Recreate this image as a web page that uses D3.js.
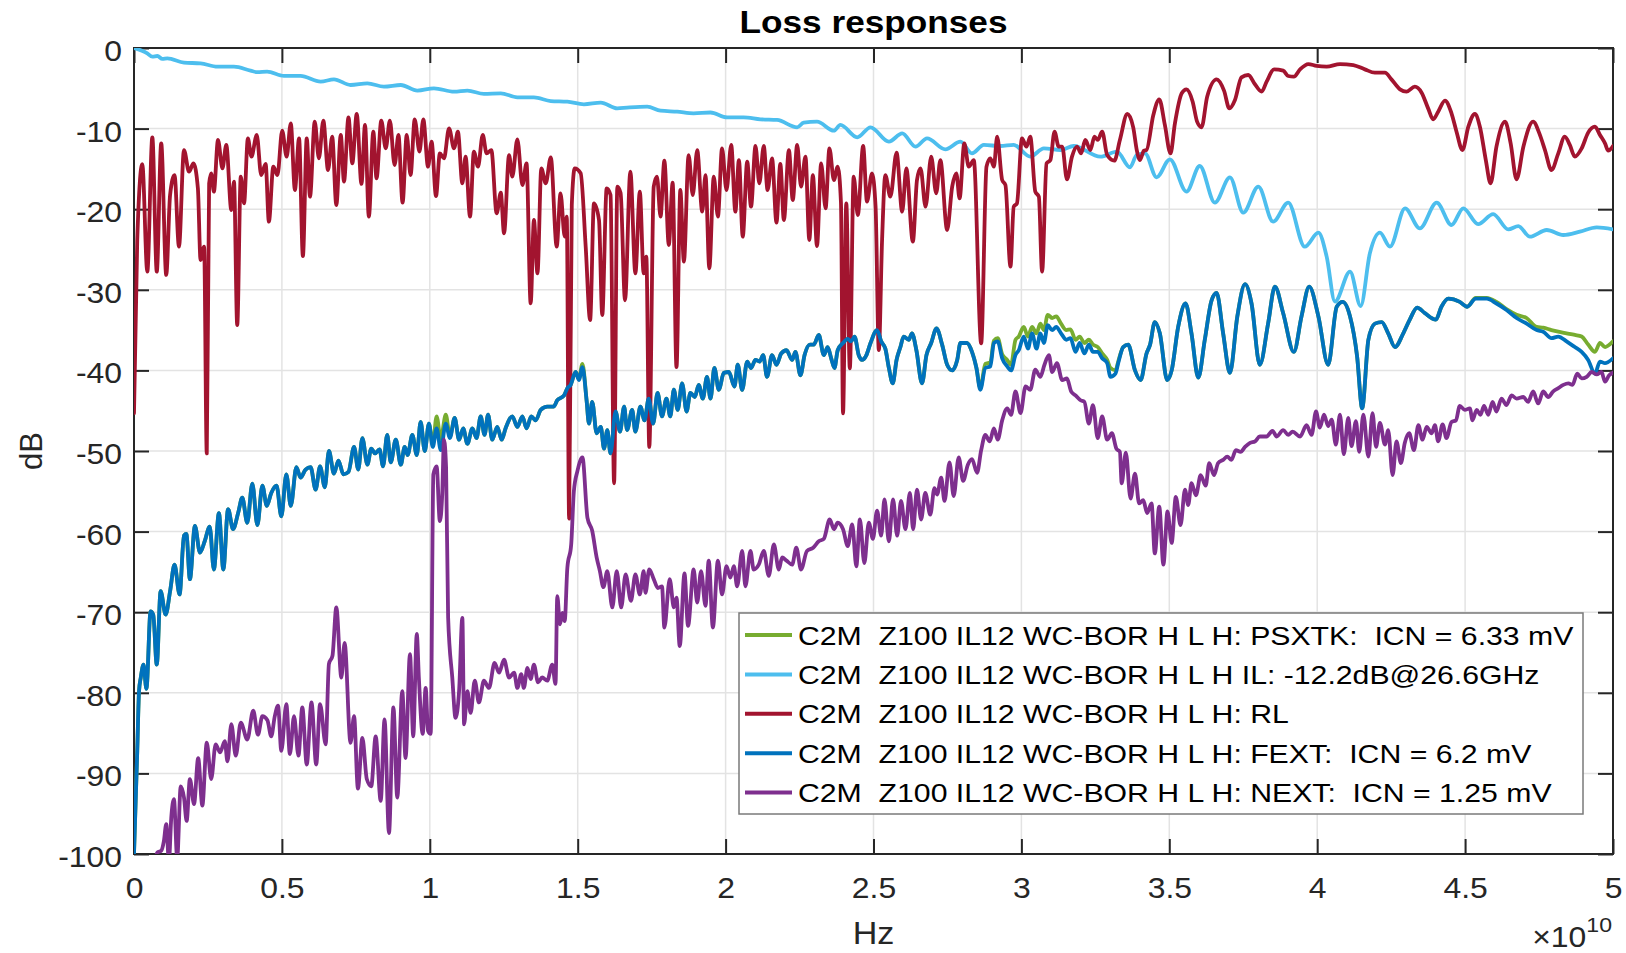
<!DOCTYPE html>
<html>
<head>
<meta charset="utf-8">
<script src="https://cdn.jsdelivr.net/npm/d3@7"></script>
<style>
  body { margin: 0; background: #fff; }
  text { font-family: "Liberation Sans", Arial, Helvetica, sans-serif; }
</style>
</head>
<body>
<div id="chart"></div>
<script>
// frequencies in GHz, values in dB
const ilData = [[0,0],[0.45,-0.66],[0.62,-1.08],[0.79,-0.99],[0.96,-1.36],[1.13,-1.28],[1.69,-1.82],[2.25,-1.9],[2.82,-2.32],[3.38,-2.32],[3.94,-2.81],[4.17,-3.0],[4.5,-2.94],[5.07,-3.47],[5.63,-3.47],[6.31,-4.18],[6.76,-3.89],[7.32,-4.59],[7.89,-4.38],[8.45,-4.8],[9.02,-4.59],[9.58,-5.29],[10.14,-5.0],[10.82,-5.42],[11.27,-5.29],[11.83,-5.7],[12.4,-5.62],[12.96,-6.12],[13.52,-6.12],[14.09,-6.58],[14.65,-6.66],[15.21,-6.99],[15.78,-6.78],[16.34,-7.49],[16.67,-7.4],[17.35,-7.28],[17.8,-7.78],[18.36,-7.9],[18.92,-8.1],[19.49,-8.0],[20.05,-8.6],[20.61,-8.6],[21.18,-8.85],[21.74,-8.93],[22.42,-9.84],[22.64,-9.26],[23.09,-9.14],[23.66,-10.26],[23.88,-9.55],[24.45,-11.08],[24.9,-9.84],[25.52,-11.62],[25.97,-10.59],[26.42,-12.24],[26.81,-11.21],[27.43,-12.57],[27.94,-11.62],[28.33,-13.07],[28.73,-12.03],[29.29,-12.16],[29.74,-12.03],[30.3,-13.48],[30.76,-12.45],[31.32,-12.66],[31.77,-12.16],[32.67,-13.48],[33.23,-12.86],[33.67,-14.8],[33.9,-13.28],[34.18,-13.07],[34.57,-16.05],[35.02,-13.81],[35.58,-17.82],[36.03,-14.64],[36.54,-19.19],[37.05,-16.05],[37.5,-20.43],[38.01,-17.2],[38.51,-21.55],[39.02,-19.19],[39.58,-24.65],[40.04,-22.91],[40.32,-25.89],[40.6,-31.47],[41.11,-27.75],[41.47,-32.01],[41.78,-25.48],[42.12,-22.91],[42.46,-24.65],[42.97,-19.89],[43.47,-22.37],[44.04,-19.19],[44.54,-21.96],[44.94,-19.89],[45.44,-21.84],[45.95,-20.6],[46.46,-22.5],[46.8,-22.09],[47.19,-23.41],[47.76,-22.58],[48.32,-23.2],[48.88,-22.79],[49.45,-22.25],[50,-22.5]];

const rlData = [[0,-45.3],[0.11,-23.8],[0.28,-14.4],[0.45,-27.75],[0.62,-11.08],[0.77,-27.75],[0.92,-11.83],[1.09,-28.16],[1.22,-18.24],[1.37,-15.76],[1.52,-24.65],[1.69,-12.66],[1.86,-15.34],[2.01,-14.31],[2.16,-17.41],[2.25,-26.3],[2.37,-24.65],[2.46,-50.3],[2.54,-16.8],[2.61,-15.55],[2.7,-17.82],[2.84,-11.41],[2.99,-14.93],[3.12,-12.03],[3.29,-20.1],[3.38,-16.58],[3.49,-34.37],[3.61,-15.96],[3.72,-19.27],[3.85,-11.21],[3.97,-13.48],[4.15,-10.79],[4.3,-15.76],[4.45,-14.39],[4.56,-21.55],[4.71,-14.72],[4.85,-15.76],[5.01,-10.26],[5.16,-13.48],[5.3,-9.35],[5.44,-17.62],[5.58,-11.21],[5.71,-25.81],[5.84,-11.21],[5.95,-18.45],[6.11,-9.14],[6.25,-13.69],[6.4,-9.02],[6.56,-15.14],[6.7,-11.0],[6.84,-19.48],[6.99,-10.79],[7.1,-16.58],[7.25,-8.6],[7.38,-14.31],[7.53,-8.19],[7.69,-16.87],[7.81,-9.55],[7.94,-20.93],[8.09,-10.38],[8.2,-16.17],[8.36,-9.02],[8.51,-12.45],[8.65,-9.02],[8.81,-14.52],[8.94,-10.79],[9.08,-19.19],[9.22,-10.79],[9.35,-15.76],[9.49,-8.85],[9.65,-12.86],[9.78,-8.85],[9.94,-14.72],[10.06,-11.62],[10.21,-18.36],[10.34,-13.07],[10.48,-13.69],[10.65,-9.97],[10.82,-12.45],[10.95,-10.38],[11.1,-16.79],[11.21,-13.48],[11.36,-20.93],[11.49,-12.86],[11.63,-14.72],[11.79,-10.79],[11.92,-13.07],[12.08,-12.66],[12.26,-20.51],[12.4,-17.95],[12.51,-22.99],[12.68,-13.28],[12.79,-15.96],[12.96,-11.33],[13.13,-17.0],[13.27,-14.31],[13.41,-31.68],[13.52,-21.34],[13.64,-27.96],[13.77,-14.93],[13.92,-16.79],[14.09,-13.56],[14.29,-24.65],[14.42,-18.03],[14.56,-23.41],[14.63,-20.93],[14.71,-58.4],[14.8,-19.5],[14.9,-14.93],[15.1,-15.55],[15.27,-24.65],[15.42,-33.75],[15.55,-19.27],[15.72,-21.34],[15.83,-33.13],[15.98,-17.41],[16.11,-18.24],[16.23,-54],[16.34,-17.2],[16.45,-18],[16.6,-31.3],[16.78,-15.34],[16.95,-27.96],[17.1,-17.82],[17.23,-27.96],[17.32,-25.89],[17.42,-49.5],[17.57,-17.2],[17.68,-15.96],[17.8,-20.93],[17.93,-13.98],[18.08,-24.44],[18.21,-16.71],[18.34,-39.6],[18.47,-17.62],[18.59,-26.51],[18.75,-13.28],[18.89,-18.24],[19.04,-12.66],[19.21,-20.31],[19.32,-15.76],[19.45,-27.34],[19.6,-15.96],[19.74,-20.93],[19.88,-12.45],[20.03,-17.62],[20.19,-12.03],[20.33,-20.31],[20.45,-13.9],[20.58,-23.41],[20.73,-14.1],[20.86,-19.69],[21.01,-12.16],[21.14,-16.79],[21.29,-12.16],[21.42,-17.62],[21.57,-13.69],[21.72,-21.67],[21.85,-14.39],[21.97,-21.34],[22.14,-12.66],[22.27,-18.86],[22.42,-12.03],[22.55,-17.2],[22.7,-13.48],[22.83,-23.82],[22.95,-15.76],[23.09,-24.57],[23.23,-14.31],[23.38,-19.89],[23.51,-12.45],[23.66,-16.38],[23.79,-14.72],[23.9,-19.19],[23.97,-45.33],[24.08,-19.27],[24.2,-39.74],[24.33,-15.96],[24.47,-20.72],[24.65,-12.16],[24.78,-19.07],[24.95,-15.55],[25.07,-19.69],[25.18,-37.47],[25.29,-23.82],[25.4,-15.76],[25.57,-18.45],[25.78,-12.99],[25.97,-20.31],[26.11,-14.93],[26.33,-24.03],[26.47,-16.38],[26.59,-14.93],[26.76,-19.69],[26.95,-13.48],[27.12,-18.03],[27.26,-13.9],[27.49,-22.58],[27.66,-17.2],[27.8,-15.55],[27.91,-18.65],[28.07,-11.83],[28.22,-14.72],[28.39,-13.9],[28.64,-36.64],[28.82,-14.72],[28.95,-13.69],[29.07,-14.72],[29.18,-11.0],[29.35,-16.38],[29.46,-17.0],[29.63,-27.13],[29.74,-19.69],[29.85,-19.27],[30.02,-11.21],[30.17,-12.24],[30.3,-11.0],[30.47,-17.82],[30.59,-18.45],[30.7,-27.75],[30.85,-14.31],[30.98,-13.9],[31.12,-10.38],[31.26,-12.24],[31.38,-12.24],[31.54,-16.29],[31.71,-13.48],[31.88,-12.24],[32.02,-13.07],[32.16,-11.41],[32.33,-12.66],[32.47,-11.0],[32.58,-11.41],[32.73,-10.38],[32.9,-13.28],[33.14,-13.98],[33.33,-11.41],[33.58,-8.19],[33.78,-9.84],[33.9,-12.66],[34.01,-13.9],[34.14,-12.74],[34.23,-12.66],[34.46,-8.31],[34.66,-6.37],[34.85,-9.55],[35.04,-13.07],[35.19,-9.35],[35.42,-5.62],[35.58,-5.13],[35.79,-6.66],[35.94,-9.14],[36.09,-9.84],[36.28,-6.04],[36.6,-3.89],[36.85,-5.29],[37.03,-7.49],[37.22,-6.45],[37.44,-3.64],[37.67,-3.35],[37.89,-4.47],[38.12,-5.42],[38.29,-4.18],[38.54,-2.65],[38.85,-2.81],[39.02,-3.47],[39.21,-3.56],[39.42,-2.65],[39.7,-1.99],[39.98,-2.23],[40.32,-2.32],[40.77,-1.99],[41.22,-2.11],[41.61,-2.65],[41.95,-3.06],[42.29,-3.06],[42.51,-3.89],[42.8,-5.13],[43.02,-5.42],[43.3,-4.8],[43.53,-5.54],[43.75,-7.49],[43.92,-8.85],[44.09,-7.9],[44.32,-6.53],[44.54,-8.1],[44.71,-10.38],[44.91,-12.66],[45.11,-9.76],[45.33,-8.19],[45.5,-9.76],[45.7,-13.9],[45.86,-16.79],[46.06,-12.24],[46.35,-9.14],[46.54,-11.83],[46.74,-16.29],[46.97,-12.24],[47.3,-9.14],[47.51,-10.59],[47.7,-12.66],[47.92,-15.14],[48.15,-13.07],[48.37,-11.0],[48.54,-12.03],[48.71,-13.48],[48.94,-12.45],[49.16,-10.5],[49.39,-9.76],[49.56,-10.79],[49.73,-11.83],[49.84,-12.74],[50,-12.16]];

const fextData = [[0,-100],[0.11,-87.2],[0.17,-79.8],[0.23,-78.1],[0.32,-76.5],[0.42,-79.5],[0.56,-69.9],[0.65,-70.3],[0.77,-76.5],[0.9,-67.4],[1.07,-70.3],[1.22,-67.4],[1.37,-64.1],[1.54,-67.8],[1.69,-60.5],[1.77,-60.3],[1.89,-65.9],[2.06,-59.3],[2.23,-62.6],[2.39,-61.2],[2.56,-59.4],[2.7,-64.7],[2.87,-57.7],[3.02,-64.7],[3.18,-57.2],[3.35,-59.7],[3.52,-57.7],[3.66,-55.8],[3.83,-58.9],[4.0,-54.05],[4.17,-59.2],[4.34,-54.3],[4.49,-56.8],[4.64,-55.2],[4.82,-54.3],[4.98,-58.1],[5.15,-52.9],[5.3,-56.8],[5.49,-52.0],[5.63,-53.3],[5.8,-52.3],[5.97,-52.0],[6.14,-54.8],[6.29,-51.9],[6.45,-54.5],[6.59,-50.0],[6.76,-52.8],[6.91,-51.2],[7.08,-52.9],[7.25,-52.6],[7.44,-49.5],[7.58,-52.3],[7.72,-48.4],[7.89,-51.7],[8.02,-49.7],[8.15,-50.3],[8.3,-49.8],[8.42,-51.9],[8.56,-48.0],[8.68,-51.4],[8.85,-48.6],[9.02,-51.7],[9.15,-49.5],[9.25,-50.5],[9.41,-48.0],[9.56,-50.5],[9.69,-46.4],[9.83,-50.0],[9.97,-46.6],[10.1,-49.5],[10.23,-47.2],[10.37,-49.9],[10.54,-46.6],[10.68,-48.4],[10.84,-45.9],[10.99,-48.6],[11.13,-47.2],[11.27,-49.1],[11.44,-47.2],[11.58,-48.4],[11.72,-45.7],[11.85,-48.0],[11.97,-45.5],[12.11,-48.6],[12.28,-47.0],[12.43,-48.6],[12.56,-47.2],[12.79,-45.7],[12.96,-47.0],[13.13,-45.7],[13.27,-47.2],[13.43,-45.7],[13.58,-46.2],[13.75,-44.9],[13.97,-44.5],[14.18,-44.5],[14.31,-43.7],[14.54,-43.1],[14.65,-42.2],[14.76,-41.8],[14.93,-40.2],[15.04,-41.2],[15.16,-39.6],[15.3,-43.7],[15.38,-46.6],[15.49,-43.9],[15.64,-47.8],[15.78,-47.0],[15.89,-49.7],[16.0,-47.4],[16.11,-50.3],[16.28,-45.1],[16.43,-47.6],[16.57,-44.5],[16.67,-47.4],[16.84,-44.9],[16.95,-47.6],[17.12,-44.5],[17.26,-46.2],[17.4,-43.5],[17.55,-46.6],[17.7,-42.8],[17.85,-45.7],[18.0,-43.5],[18.13,-45.7],[18.25,-42.4],[18.38,-44.9],[18.53,-41.6],[18.68,-45.1],[18.81,-42.8],[18.96,-43.3],[19.09,-41.8],[19.23,-43.5],[19.37,-40.8],[19.49,-43.5],[19.62,-39.7],[19.77,-42.4],[19.94,-40.3],[20.11,-40.2],[20.3,-42.0],[20.41,-39.3],[20.56,-42.4],[20.73,-38.9],[20.86,-39.7],[21.01,-38.7],[21.15,-38.9],[21.27,-38.1],[21.4,-40.8],[21.57,-38.1],[21.72,-39.3],[21.88,-37.9],[22.06,-37.5],[22.25,-38.7],[22.36,-37.7],[22.53,-40.6],[22.67,-38.1],[22.85,-36.8],[22.98,-36.8],[23.15,-35.6],[23.32,-38.1],[23.45,-37.1],[23.57,-38.5],[23.68,-39.7],[23.79,-37.5],[23.97,-36.6],[24.13,-36.1],[24.24,-36.4],[24.36,-35.8],[24.5,-38.1],[24.61,-38.7],[24.76,-38.1],[24.9,-36.6],[25.12,-35.0],[25.26,-36.4],[25.4,-37.3],[25.52,-39.7],[25.65,-41.6],[25.78,-38.7],[25.91,-37.1],[26.02,-35.8],[26.19,-36.2],[26.3,-35.4],[26.45,-37.5],[26.64,-41.6],[26.79,-38.1],[26.95,-36.6],[27.13,-34.8],[27.32,-36.8],[27.49,-39.3],[27.66,-40.0],[27.83,-38.7],[27.94,-36.6],[28.16,-36.6],[28.33,-37.7],[28.48,-39.7],[28.61,-42.4],[28.78,-39.7],[28.95,-39.5],[29.07,-36.6],[29.2,-36.4],[29.35,-38.5],[29.52,-39.5],[29.65,-40.0],[29.8,-38.1],[29.91,-37.5],[30.08,-35.8],[30.22,-37.3],[30.36,-35.4],[30.51,-37.3],[30.64,-35.4],[30.76,-36.6],[30.89,-34.4],[31.04,-35.0],[31.18,-34.6],[31.34,-35.4],[31.52,-36.2],[31.66,-36.0],[31.83,-37.7],[31.97,-36.6],[32.13,-37.9],[32.28,-36.8],[32.42,-37.7],[32.58,-37.7],[32.73,-38.5],[32.9,-39.1],[33.01,-40.8],[33.18,-40.4],[33.28,-39.0],[33.44,-37.1],[33.61,-36.8],[33.84,-40.0],[34.03,-41.2],[34.23,-37.9],[34.35,-36.8],[34.51,-34.0],[34.68,-35.4],[34.93,-41.2],[35.08,-40.0],[35.3,-34.6],[35.55,-31.7],[35.75,-35.4],[35.98,-40.9],[36.2,-36.2],[36.43,-31.3],[36.6,-30.4],[36.82,-35.4],[37.05,-40.3],[37.3,-33.3],[37.56,-29.3],[37.78,-31.7],[38.06,-39.3],[38.34,-34.2],[38.57,-29.6],[38.85,-32.9],[39.21,-37.7],[39.47,-33.3],[39.73,-29.6],[40.04,-33.3],[40.37,-39.3],[40.66,-32.1],[40.86,-31.5],[41.11,-33.3],[41.35,-38.3],[41.52,-44.7],[41.73,-36.2],[41.95,-34.2],[42.18,-34.0],[42.4,-35.4],[42.63,-37.1],[42.91,-35.4],[43.13,-33.7],[43.38,-32.2],[43.64,-32.9],[44.01,-33.7],[44.2,-32.1],[44.43,-31.1],[44.82,-31.5],[45.07,-32.1],[45.36,-31.1],[45.73,-31.1],[46.06,-31.7],[46.4,-32.5],[46.74,-33.5],[47.08,-34.2],[47.42,-35.0],[47.64,-35.2],[47.92,-36.0],[48.15,-35.8],[48.43,-36.4],[48.71,-37.1],[48.94,-37.7],[49.16,-38.7],[49.39,-40.4],[49.56,-38.9],[49.73,-39.1],[50,-38.5]];

// power-sum crosstalk, read separately: it only shows where it rises above FEXT
const psxtkData = [[0,-100],[0.11,-87.2],[0.17,-79.8],[0.23,-78.1],[0.32,-76.5],[0.42,-79.5],[0.56,-69.9],[0.65,-70.3],[0.77,-76.5],[0.9,-67.4],[1.07,-70.3],[1.22,-67.4],[1.37,-64.1],[1.54,-67.8],[1.69,-60.5],[1.77,-60.3],[1.89,-65.9],[2.06,-59.3],[2.23,-62.6],[2.39,-61.2],[2.56,-59.4],[2.7,-64.7],[2.87,-57.7],[3.02,-64.7],[3.18,-57.2],[3.35,-59.7],[3.52,-57.7],[3.66,-55.8],[3.83,-58.9],[4.0,-54.05],[4.17,-59.2],[4.34,-54.3],[4.49,-56.8],[4.64,-55.2],[4.82,-54.3],[4.98,-58.1],[5.15,-52.9],[5.3,-56.8],[5.49,-52.0],[5.63,-53.3],[5.8,-52.3],[5.97,-52.0],[6.14,-54.8],[6.29,-51.9],[6.45,-54.5],[6.59,-50.0],[6.76,-52.8],[6.91,-51.2],[7.08,-52.9],[7.25,-52.6],[7.44,-49.5],[7.58,-52.3],[7.72,-48.4],[7.89,-51.7],[8.02,-49.7],[8.15,-50.3],[8.3,-49.8],[8.42,-51.9],[8.56,-48.0],[8.68,-51.4],[8.85,-48.6],[9.02,-51.7],[9.15,-49.5],[9.25,-50.5],[9.41,-48.0],[9.56,-50.5],[9.69,-46.4],[9.83,-50.0],[9.97,-46.6],[10.1,-49.2],[10.23,-45.7],[10.37,-48.5],[10.54,-45.5],[10.68,-48.2],[10.84,-45.9],[10.99,-48.6],[11.13,-47.2],[11.27,-49.1],[11.44,-47.2],[11.58,-48.4],[11.72,-45.7],[11.85,-48.0],[11.97,-45.5],[12.11,-48.6],[12.28,-47.0],[12.43,-48.6],[12.56,-47.2],[12.79,-45.7],[12.96,-47.0],[13.13,-45.7],[13.27,-47.2],[13.43,-45.7],[13.58,-46.2],[13.75,-44.9],[13.97,-44.5],[14.18,-44.5],[14.31,-43.7],[14.54,-43.1],[14.65,-42.2],[14.76,-41.8],[14.93,-40.2],[15.04,-41.0],[15.16,-39.2],[15.3,-43.7],[15.38,-46.6],[15.49,-43.9],[15.64,-47.8],[15.78,-47.0],[15.89,-49.7],[16.0,-47.4],[16.11,-50.3],[16.28,-45.1],[16.43,-47.6],[16.57,-44.5],[16.67,-47.4],[16.84,-44.9],[16.95,-47.6],[17.12,-44.5],[17.26,-46.2],[17.4,-43.5],[17.55,-46.6],[17.7,-42.8],[17.85,-45.7],[18.0,-43.5],[18.13,-45.7],[18.25,-42.4],[18.38,-44.9],[18.53,-41.6],[18.68,-45.1],[18.81,-42.8],[18.96,-43.3],[19.09,-41.8],[19.23,-43.5],[19.37,-40.8],[19.49,-43.5],[19.62,-39.7],[19.77,-42.4],[19.94,-40.3],[20.11,-40.2],[20.3,-42.0],[20.41,-39.3],[20.56,-42.4],[20.73,-38.9],[20.86,-39.7],[21.01,-38.7],[21.15,-38.9],[21.27,-38.1],[21.4,-40.8],[21.57,-38.1],[21.72,-39.3],[21.88,-37.9],[22.06,-37.5],[22.25,-38.7],[22.36,-37.7],[22.53,-40.6],[22.67,-38.1],[22.85,-36.8],[22.98,-36.8],[23.15,-35.6],[23.32,-38.1],[23.45,-37.1],[23.57,-38.5],[23.68,-39.7],[23.79,-37.5],[23.97,-36.6],[24.13,-36.1],[24.24,-36.4],[24.36,-35.8],[24.5,-38.1],[24.61,-38.7],[24.76,-38.1],[24.9,-36.6],[25.12,-35.0],[25.26,-36.4],[25.4,-37.3],[25.52,-39.7],[25.65,-41.6],[25.78,-38.7],[25.91,-37.1],[26.02,-35.8],[26.19,-36.2],[26.3,-35.4],[26.45,-37.5],[26.64,-41.6],[26.79,-38.1],[26.95,-36.6],[27.13,-34.8],[27.32,-36.8],[27.49,-39.3],[27.66,-40.0],[27.83,-38.7],[27.94,-36.6],[28.16,-36.6],[28.33,-37.7],[28.48,-39.7],[28.61,-42.2],[28.78,-39.2],[28.95,-39.0],[29.07,-36.3],[29.2,-36.0],[29.35,-38.0],[29.52,-38.7],[29.65,-39.3],[29.8,-36.2],[29.91,-35.8],[30.08,-34.6],[30.22,-35.8],[30.36,-34.6],[30.51,-35.4],[30.64,-34.2],[30.76,-35.0],[30.89,-33.1],[31.04,-33.5],[31.18,-33.3],[31.34,-34.2],[31.52,-35.0],[31.66,-34.9],[31.83,-36.2],[31.97,-35.8],[32.13,-36.6],[32.28,-36.2],[32.42,-36.8],[32.58,-37.1],[32.73,-37.9],[32.9,-38.7],[33.01,-39.7],[33.18,-40.0],[33.28,-38.8],[33.44,-37.1],[33.61,-36.8],[33.84,-40.0],[34.03,-41.2],[34.23,-37.9],[34.35,-36.8],[34.51,-34.0],[34.68,-35.4],[34.93,-41.2],[35.08,-40.0],[35.3,-34.6],[35.55,-31.7],[35.75,-35.4],[35.98,-40.9],[36.2,-36.2],[36.43,-31.3],[36.6,-30.4],[36.82,-35.4],[37.05,-40.3],[37.3,-33.3],[37.56,-29.3],[37.78,-31.7],[38.06,-39.3],[38.34,-34.2],[38.57,-29.6],[38.85,-32.9],[39.21,-37.7],[39.47,-33.3],[39.73,-29.6],[40.04,-33.3],[40.37,-39.3],[40.66,-32.1],[40.86,-31.5],[41.11,-33.3],[41.35,-38.3],[41.52,-44.7],[41.73,-36.2],[41.95,-34.2],[42.18,-34.0],[42.4,-35.4],[42.63,-37.1],[42.91,-35.4],[43.13,-33.7],[43.38,-32.2],[43.64,-32.9],[44.01,-33.7],[44.2,-32.1],[44.43,-31.1],[44.82,-31.5],[45.07,-32.1],[45.36,-31.0],[45.73,-31.0],[46.06,-31.5],[46.4,-32.4],[46.74,-33.1],[47.08,-33.5],[47.42,-34.6],[47.64,-34.7],[47.92,-35.0],[48.15,-35.2],[48.43,-35.4],[48.71,-35.6],[48.94,-35.8],[49.16,-36.8],[49.39,-37.7],[49.56,-36.6],[49.73,-37.1],[50,-36.4]];

const nextData = [[0.65,-102],[0.79,-99.8],[0.92,-99.6],[1.01,-98.4],[1.09,-96.3],[1.18,-100.9],[1.26,-95.5],[1.35,-93.2],[1.46,-100.5],[1.58,-91.6],[1.69,-93.0],[1.78,-95.9],[1.89,-90.7],[2.03,-93.8],[2.17,-88.1],[2.31,-94.0],[2.46,-86.2],[2.61,-90.7],[2.76,-86.4],[2.91,-87.4],[3.07,-86.0],[3.16,-88.5],[3.29,-83.9],[3.44,-87.8],[3.61,-83.7],[3.83,-85.8],[4.03,-82.2],[4.19,-85.2],[4.34,-82.9],[4.51,-83.4],[4.64,-85.4],[4.76,-82.9],[4.87,-81.6],[4.98,-87.2],[5.15,-81.4],[5.27,-87.6],[5.41,-82.9],[5.56,-87.8],[5.69,-81.8],[5.84,-88.9],[6.0,-81.2],[6.16,-88.9],[6.29,-81.4],[6.48,-86.4],[6.59,-76.4],[6.71,-75.4],[6.84,-69.4],[7.01,-78.1],[7.12,-73.8],[7.32,-86.2],[7.44,-82.9],[7.57,-91.9],[7.72,-85.6],[7.87,-90.7],[8.02,-91.6],[8.17,-85.4],[8.34,-93.4],[8.47,-83.3],[8.62,-97.4],[8.77,-81.8],[8.9,-93.0],[9.07,-79.8],[9.18,-88.1],[9.33,-75.2],[9.44,-85.4],[9.56,-72.7],[9.63,-78.1],[9.76,-85.1],[9.86,-79.4],[9.94,-84.7],[10.03,-85.1],[10.12,-52.9],[10.23,-51.9],[10.34,-58.7],[10.42,-55.4],[10.48,-48.6],[10.55,-52],[10.62,-70.7],[10.76,-78.1],[10.87,-83.1],[10.99,-79.8],[11.1,-70.7],[11.16,-83.9],[11.27,-79.8],[11.38,-82.5],[11.52,-78.5],[11.66,-81.2],[11.83,-78.5],[12.0,-79.4],[12.19,-76.3],[12.34,-77.5],[12.51,-75.9],[12.68,-78.1],[12.85,-77.5],[12.96,-79.4],[13.09,-77.7],[13.18,-79.4],[13.3,-76.9],[13.41,-78.3],[13.52,-76.5],[13.66,-78.7],[13.8,-78.1],[13.97,-78.5],[14.14,-76.5],[14.25,-78.9],[14.31,-68.0],[14.4,-71.5],[14.48,-70.1],[14.56,-71.1],[14.65,-64.5],[14.78,-61.6],[14.87,-55.0],[14.99,-52.5],[15.16,-50.8],[15.33,-58.3],[15.49,-59.9],[15.64,-63.2],[15.75,-64.9],[15.87,-66.9],[16.0,-64.9],[16.17,-69.4],[16.32,-64.9],[16.47,-69.4],[16.62,-65.3],[16.8,-68.6],[16.95,-65.3],[17.1,-67.8],[17.23,-64.9],[17.29,-67.6],[17.42,-64.7],[17.57,-65.9],[17.71,-67.0],[17.85,-66.8],[17.93,-71.9],[18.11,-65.9],[18.25,-69.4],[18.34,-68.2],[18.45,-74.2],[18.61,-65.2],[18.73,-71.7],[18.92,-64.7],[19.04,-68.8],[19.17,-64.9],[19.32,-69.2],[19.43,-63.6],[19.57,-71.9],[19.74,-63.6],[19.88,-67.8],[20.03,-64.3],[20.16,-65.7],[20.28,-64.3],[20.39,-66.8],[20.56,-62.4],[20.67,-66.8],[20.84,-62.4],[20.95,-64.7],[21.12,-64.1],[21.29,-62.4],[21.46,-65.5],[21.63,-61.6],[21.8,-64.7],[21.91,-63.2],[22.06,-63.6],[22.25,-64.1],[22.39,-62.0],[22.55,-64.7],[22.75,-62.4],[22.96,-62.0],[23.15,-61.2],[23.32,-60.9],[23.52,-58.5],[23.66,-59.7],[23.79,-58.9],[23.97,-59.7],[24.13,-61.8],[24.28,-59.1],[24.42,-64.3],[24.54,-58.5],[24.69,-63.9],[24.84,-58.9],[24.98,-60.9],[25.12,-57.4],[25.26,-60.5],[25.37,-56.0],[25.52,-61.2],[25.66,-56.0],[25.8,-60.5],[25.93,-56.2],[26.08,-59.7],[26.23,-55.2],[26.34,-59.7],[26.47,-54.8],[26.61,-58.5],[26.75,-55.2],[26.92,-57.9],[27.06,-54.6],[27.15,-55.4],[27.29,-53.3],[27.4,-56.2],[27.57,-51.4],[27.71,-55.6],[27.88,-50.8],[28.03,-53.7],[28.19,-51.7],[28.33,-51.0],[28.5,-52.7],[28.64,-49.9],[28.78,-48.0],[28.93,-48.8],[29.07,-47.2],[29.2,-48.6],[29.35,-46.2],[29.52,-44.7],[29.65,-45.5],[29.8,-42.6],[29.97,-45.3],[30.14,-42.0],[30.3,-42.4],[30.47,-39.9],[30.64,-40.8],[30.78,-39.3],[30.93,-38.1],[31.04,-40.2],[31.2,-39.1],[31.38,-41.2],[31.54,-41.0],[31.68,-42.6],[31.83,-43.1],[32.0,-43.7],[32.13,-43.9],[32.28,-46.6],[32.42,-44.3],[32.58,-48.4],[32.73,-45.7],[32.9,-48.6],[33.06,-47.8],[33.21,-49.7],[33.33,-50.1],[33.39,-54.0],[33.53,-50.2],[33.69,-55.9],[33.84,-52.8],[33.98,-56.5],[34.12,-56.1],[34.25,-57.7],[34.4,-56.5],[34.51,-62.7],[34.66,-56.9],[34.8,-64.1],[34.94,-57.5],[35.08,-61.4],[35.22,-55.7],[35.38,-59.2],[35.53,-54.8],[35.64,-56.7],[35.75,-54.0],[35.9,-55.5],[36.06,-53.0],[36.23,-54.3],[36.35,-51.5],[36.51,-53.0],[36.65,-51.5],[36.82,-51.1],[36.96,-50.7],[37.1,-51.1],[37.25,-49.9],[37.41,-50.1],[37.56,-49.5],[37.73,-49.0],[37.9,-48.8],[38.06,-48.2],[38.29,-48.2],[38.49,-47.5],[38.63,-48.2],[38.85,-47.4],[39.02,-48.0],[39.17,-47.6],[39.42,-48.2],[39.64,-46.8],[39.81,-48.0],[39.96,-45.1],[40.09,-47.1],[40.23,-45.5],[40.37,-46.9],[40.49,-46.1],[40.63,-49.2],[40.77,-45.5],[40.9,-50.4],[41.05,-45.9],[41.16,-49.4],[41.31,-46.3],[41.42,-50.1],[41.56,-45.5],[41.73,-50.7],[41.87,-45.3],[41.99,-49.5],[42.12,-46.5],[42.29,-49.2],[42.4,-47.4],[42.55,-53.0],[42.68,-48.8],[42.83,-51.5],[42.96,-49.0],[43.11,-47.8],[43.27,-49.9],[43.42,-46.8],[43.56,-48.6],[43.7,-47.0],[43.87,-47.8],[43.98,-46.8],[44.09,-48.8],[44.24,-46.7],[44.37,-48.4],[44.54,-46.4],[44.69,-46.2],[44.82,-44.4],[44.99,-44.9],[45.16,-44.7],[45.25,-46.2],[45.39,-44.9],[45.52,-45.5],[45.64,-44.4],[45.78,-45.5],[45.93,-43.9],[46.06,-45.1],[46.23,-43.5],[46.4,-44.3],[46.57,-43.1],[46.74,-43.5],[46.97,-43.3],[47.13,-43.9],[47.3,-42.6],[47.47,-44.1],[47.64,-42.6],[47.81,-43.3],[47.98,-42.6],[48.15,-42.2],[48.32,-41.8],[48.49,-41.6],[48.63,-41.8],[48.79,-40.4],[48.94,-41.0],[49.11,-40.8],[49.28,-40.2],[49.45,-40.5],[49.61,-40.2],[49.73,-41.4],[49.87,-40.6],[50,-40.3]];

const xTicks = [0, 0.5e10, 1e10, 1.5e10, 2e10, 2.5e10, 3e10, 3.5e10, 4e10, 4.5e10, 5e10];
const xTickLabels = ["0", "0.5", "1", "1.5", "2", "2.5", "3", "3.5", "4", "4.5", "5"];
const yTicks = [-100, -90, -80, -70, -60, -50, -40, -30, -20, -10, 0];
const yTickLabels = ["-100", "-90", "-80", "-70", "-60", "-50", "-40", "-30", "-20", "-10", "0"];

const legendLabels = [
  "C2M  Z100 IL12 WC-BOR H L H: PSXTK:  ICN = 6.33 mV",
  "C2M  Z100 IL12 WC-BOR H L H IL: -12.2dB@26.6GHz",
  "C2M  Z100 IL12 WC-BOR H L H: RL",
  "C2M  Z100 IL12 WC-BOR H L H: FEXT:  ICN = 6.2 mV",
  "C2M  Z100 IL12 WC-BOR H L H: NEXT:  ICN = 1.25 mV"
];
const colors = ["#77AC30", "#4DBEEE", "#A2142F", "#0072BD", "#7E2F8E"];
const seriesData = [psxtkData, ilData, rlData, fextData, nextData];

const width = 1626, height = 953;
const margin = {top: 48, right: 13, bottom: 99, left: 134};
const plotW = width - margin.left - margin.right;
const plotH = height - margin.top - margin.bottom;
const sx = 1.1; // text in the picture is a bit wider than plain Arial
const axisColor = "#262626";

const svg = d3.select("#chart").append("svg")
  .attr("width", width)
  .attr("height", height)
  .style("background", "#fff");

svg.append("defs").append("clipPath").attr("id", "plotclip")
  .append("rect").attr("width", plotW).attr("height", plotH);

const x = d3.scaleLinear().domain([0, 5e10]).range([0, plotW]);
const y = d3.scaleLinear().domain([-100, 0]).range([plotH, 0]);

const g = svg.append("g").attr("transform", `translate(${margin.left},${margin.top})`);

// grid
g.append("g").selectAll("line").data(xTicks.slice(1, -1)).join("line")
  .attr("x1", d => x(d)).attr("x2", d => x(d))
  .attr("y1", 0).attr("y2", plotH)
  .attr("stroke", "#e3e3e3").attr("stroke-width", 1.5);
g.append("g").selectAll("line").data(yTicks.slice(1, -1)).join("line")
  .attr("x1", 0).attr("x2", plotW)
  .attr("y1", d => y(d)).attr("y2", d => y(d))
  .attr("stroke", "#e3e3e3").attr("stroke-width", 1.5);

// axes, ticks pointing inward
const xAxis = d3.axisBottom(x).tickValues(xTicks).tickSize(-15).tickPadding(23)
  .tickFormat((d, i) => xTickLabels[i]);
const yAxis = d3.axisLeft(y).tickValues(yTicks).tickSize(-15).tickPadding(12)
  .tickFormat((d, i) => yTickLabels[i]);

const gx = g.append("g").attr("transform", `translate(0,${plotH})`).call(xAxis);
const gy = g.append("g").call(yAxis);
const gxTop = g.append("g").call(d3.axisTop(x).tickValues(xTicks).tickSize(-15).tickFormat(""));
const gyRight = g.append("g").attr("transform", `translate(${plotW},0)`)
  .call(d3.axisRight(y).tickValues(yTicks).tickSize(-15).tickFormat(""));

[gx, gy, gxTop, gyRight].forEach(a => {
  a.select(".domain").remove();
  a.selectAll(".tick line").attr("stroke", axisColor).attr("stroke-width", 2);
});
gx.selectAll(".tick text")
  .attr("font-size", 29).attr("fill", axisColor)
  .attr("transform", `scale(${sx},1)`);
gy.selectAll(".tick text")
  .attr("font-size", 29).attr("fill", axisColor)
  .attr("x", -12 / sx).attr("dy", "0.43em")
  .attr("transform", `scale(${sx},1)`);

g.append("rect")
  .attr("width", plotW).attr("height", plotH)
  .attr("fill", "none").attr("stroke", axisColor).attr("stroke-width", 2);

// data lines (monotone curve keeps the read points, smooths the joins)
const line = d3.line()
  .curve(d3.curveMonotoneX)
  .x(d => x(d[0] * 1e9))
  .y(d => y(d[1]));

g.append("g").attr("clip-path", "url(#plotclip)")
  .selectAll("path").data(seriesData).join("path")
  .attr("d", d => line(d))
  .attr("fill", "none")
  .attr("stroke", (d, i) => colors[i])
  .attr("stroke-width", 3.8)
  .attr("stroke-linejoin", "round")
  .attr("stroke-linecap", "round");

// title and axis labels
svg.append("text")
  .attr("transform", `translate(${margin.left + plotW / 2},33) scale(${sx},1)`)
  .attr("text-anchor", "middle")
  .attr("font-size", 32).attr("font-weight", "bold").attr("fill", "#000")
  .text("Loss responses");

svg.append("text")
  .attr("transform", `translate(${margin.left + plotW / 2},944) scale(${sx},1)`)
  .attr("text-anchor", "middle")
  .attr("font-size", 31).attr("fill", axisColor)
  .text("Hz");

svg.append("text")
  .attr("transform", `translate(42,${margin.top + plotH / 2}) rotate(-90)`)
  .attr("text-anchor", "middle")
  .attr("font-size", 31).attr("fill", axisColor)
  .text("dB");

const expo = svg.append("text")
  .attr("transform", `translate(1612,947) scale(${sx},1)`)
  .attr("text-anchor", "end")
  .attr("fill", axisColor);
expo.append("tspan").attr("font-size", 29).text("\u00d710");
expo.append("tspan").attr("font-size", 21).attr("dy", -15).text("10");

// legend
const legend = svg.append("g").attr("transform", "translate(739,613)");
legend.append("rect")
  .attr("width", 844).attr("height", 201)
  .attr("fill", "#fff").attr("stroke", "#7a7a7a").attr("stroke-width", 1.5);

const rows = legend.selectAll("g.row").data(legendLabels).join("g")
  .attr("class", "row")
  .attr("transform", (d, i) => `translate(0,${22 + i * 39.4})`);
rows.append("line")
  .attr("x1", 6).attr("x2", 53)
  .attr("stroke", (d, i) => colors[i]).attr("stroke-width", 4);
const labels = rows.append("text")
  .attr("font-size", 26.5).attr("fill", "#000")
  .style("white-space", "pre")
  .text(d => d);

// the legend text is drawn wider than the font; fit the first row to its width
const w0 = labels.node().getComputedTextLength();
const lsx = 776 / w0;
labels.attr("transform", `translate(59,9.5) scale(${lsx},1)`);
</script>
</body>
</html>
